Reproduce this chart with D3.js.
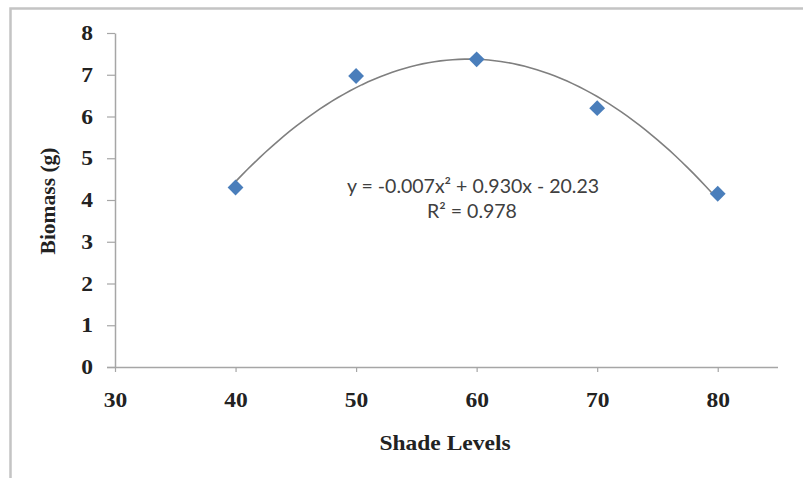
<!DOCTYPE html>
<html>
<head>
<meta charset="utf-8">
<script src="https://cdn.jsdelivr.net/npm/d3@7"></script>
<style>
  body { margin: 0; background: #fff; }
  svg { display: block; }
</style>
</head>
<body>
<div id="chart"></div>
<script>
// Data
const shadeLevels = [40, 50, 60, 70, 80];
const biomass = [4.3, 6.97, 7.37, 6.2, 4.15];
const xTicks = [30, 40, 50, 60, 70, 80];
const yTicks = [0, 1, 2, 3, 4, 5, 6, 7, 8];
const equationText = "y = -0.007x² + 0.930x - 20.23";
const r2Text = "R² = 0.978";

const data = shadeLevels.map((s, i) => ({x: s, y: biomass[i]}));

const width = 803, height = 478;
const margins = {top: 33, right: 25, bottom: 111, left: 115};
const serif = "'Liberation Serif', 'Times New Roman', serif";
const stretch = 1.12; // the original picture is a bit wider than tall

const svg = d3.select("#chart")
  .append("svg")
  .attr("width", width)
  .attr("height", height);

// Outer frame (only top and left edges are visible in the crop)
svg.append("path")
  .attr("d", `M10.5,${height} V8.5 H${width}`)
  .attr("fill", "none")
  .attr("stroke", "#c4c4c4")
  .attr("stroke-width", 2.5);

const x = d3.scaleLinear()
  .domain([30, 85])
  .range([margins.left, width - margins.right]);

const y = d3.scaleLinear()
  .domain([0, 8])
  .range([height - margins.bottom, margins.top]);

// Axes
const yAxis = d3.axisLeft(y).tickValues(yTicks).tickSize(8).tickSizeOuter(0).tickPadding(14);
const xAxis = d3.axisBottom(x).tickValues(xTicks).tickSize(5).tickSizeOuter(0).tickPadding(20);

const yGroup = svg.append("g")
    .attr("transform", `translate(${margins.left},0)`)
  .call(yAxis);

const xGroup = svg.append("g")
    .attr("transform", `translate(0,${height - margins.bottom})`)
  .call(xAxis);

// x-axis starts a bit left of the y axis
xGroup.select(".domain").attr("d", `M${margins.left - 8},0.5H${width - margins.right}`);

[xGroup, yGroup].forEach(g => {
  g.select(".domain").attr("stroke", "#a6a6a6").attr("stroke-width", 1.5);
  g.selectAll(".tick line").attr("stroke", "#a6a6a6").attr("stroke-width", 1.2);
  g.selectAll(".tick text")
    .style("font-family", serif)
    .style("font-weight", "bold")
    .style("font-size", "21px")
    .attr("fill", "#222")
    .attr("transform", `scale(${stretch},1)`);
});
yGroup.selectAll(".tick text").attr("x", -22 / stretch);

// Quadratic least-squares trendline fitted to the points
const n = data.length;
const mx = d3.mean(data, d => d.x);
const sums = {x: 0, x2: 0, x3: 0, x4: 0, y: 0, xy: 0, x2y: 0};
data.forEach(d => {
  const t = d.x - mx;
  sums.x += t; sums.x2 += t * t; sums.x3 += t ** 3; sums.x4 += t ** 4;
  sums.y += d.y; sums.xy += t * d.y; sums.x2y += t * t * d.y;
});
// Solve 3x3 normal equations
const A = [
  [n, sums.x, sums.x2, sums.y],
  [sums.x, sums.x2, sums.x3, sums.xy],
  [sums.x2, sums.x3, sums.x4, sums.x2y]
];
for (let i = 0; i < 3; i++) {
  for (let k = i + 1; k < 3; k++) {
    const f = A[k][i] / A[i][i];
    for (let j = i; j < 4; j++) A[k][j] -= f * A[i][j];
  }
}
const coef = [0, 0, 0];
for (let i = 2; i >= 0; i--) {
  let s = A[i][3];
  for (let j = i + 1; j < 3; j++) s -= A[i][j] * coef[j];
  coef[i] = s / A[i][i];
}
const fit = v => coef[0] + coef[1] * (v - mx) + coef[2] * (v - mx) ** 2;

const trend = d3.range(40, 80.01, 0.5).map(v => ({x: v, y: fit(v)}));
const line = d3.line()
  .curve(d3.curveLinear)
  .x(d => x(d.x))
  .y(d => y(d.y));

svg.append("path")
  .datum(trend)
  .attr("d", line)
  .attr("fill", "none")
  .attr("stroke", "#7f7f7f")
  .attr("stroke-width", 1.6);

// Diamond markers
svg.append("g")
  .selectAll("path")
  .data(data)
  .join("path")
    .attr("d", d3.symbol(d3.symbolSquare, 125))
    .attr("transform", d => `translate(${x(d.x)},${y(d.y)}) rotate(45)`)
    .attr("fill", "#4a7ebb");

// Trendline equation
const eq = svg.append("g")
  .style("font-family", "Lato, 'Open Sans', sans-serif")
  .style("font-size", "19.5px")
  .attr("fill", "#404040")
  .attr("text-anchor", "middle");

eq.append("text")
  .attr("x", 473)
  .attr("y", 193)
  .text(equationText);

eq.append("text")
  .attr("x", 472)
  .attr("y", 218)
  .text(r2Text);

// Axis titles
svg.append("text")
  .attr("transform", `translate(445,450) scale(${stretch},1)`)
  .attr("text-anchor", "middle")
  .style("font-family", serif)
  .style("font-weight", "bold")
  .style("font-size", "21px")
  .attr("fill", "#222")
  .text("Shade Levels");

svg.append("text")
  .attr("transform", "translate(55,201) rotate(-90)")
  .attr("text-anchor", "middle")
  .style("font-family", serif)
  .style("font-weight", "bold")
  .style("font-size", "21.5px")
  .attr("fill", "#222")
  .text("Biomass (g)");
</script>
</body>
</html>
